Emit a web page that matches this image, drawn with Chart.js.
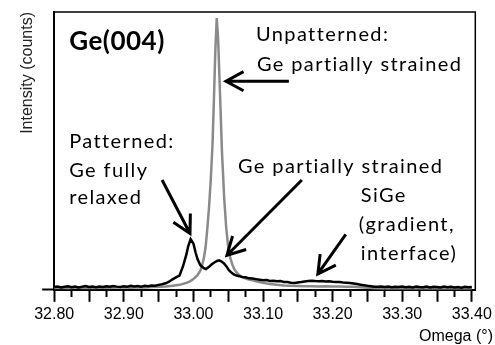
<!DOCTYPE html>
<html>
<head>
<meta charset="utf-8">
<script src="https://cdn.jsdelivr.net/npm/chart.js@4"></script>
<style>
  html, body { margin: 0; padding: 0; background: #fff; }
  #chart { display: block; }
</style>
</head>
<body>
<canvas id="chart" width="495" height="345"></canvas>
<script>
const patternedOmega = [
  32.800, 32.805, 32.810, 32.815, 32.820, 32.825, 32.830, 32.835, 32.840, 32.845,
  32.850, 32.855, 32.860, 32.865, 32.870, 32.875, 32.880, 32.885, 32.890, 32.895,
  32.900, 32.905, 32.910, 32.915, 32.920, 32.925, 32.930, 32.935, 32.940, 32.945,
  32.950, 32.955, 32.960, 32.965, 32.970, 32.975, 32.980, 32.985, 32.990, 32.9925,
  32.996, 33.000, 33.003, 33.006, 33.010, 33.015, 33.018, 33.022, 33.026, 33.030,
  33.034, 33.037, 33.040, 33.044, 33.048, 33.051, 33.055, 33.058, 33.062, 33.066,
  33.070, 33.075, 33.080, 33.085, 33.090, 33.095, 33.100, 33.105, 33.110, 33.115,
  33.120, 33.125, 33.130, 33.135, 33.140, 33.145, 33.150, 33.155, 33.160, 33.165,
  33.170, 33.175, 33.180, 33.185, 33.190, 33.195, 33.200, 33.205, 33.210, 33.215,
  33.220, 33.225, 33.230, 33.235, 33.240, 33.245, 33.250, 33.255, 33.260, 33.265,
  33.270, 33.275, 33.280, 33.285, 33.290, 33.295, 33.300, 33.305, 33.310, 33.315,
  33.320, 33.325, 33.330, 33.335, 33.340, 33.345, 33.350, 33.355, 33.360, 33.365,
  33.370, 33.375, 33.380, 33.385, 33.390, 33.395, 33.400
];
const patternedCounts = [
  70, 85, 60, 75, 90, 65, 80, 60, 75, 95,
  70, 80, 65, 85, 70, 90, 75, 95, 80, 70,
  90, 80, 100, 85, 95, 80, 100, 90, 110, 105,
  125, 140, 165, 205, 265, 315, 360, 590, 900, 1100,
  1280, 1170, 950, 770, 620, 545, 525, 575, 640, 690,
  730, 745, 720, 665, 580, 495, 430, 390, 360, 345,
  325, 315, 290, 285, 270, 255, 240, 245, 225, 230,
  215, 220, 200, 195, 180, 175, 185, 195, 210, 220,
  230, 220, 215, 225, 210, 215, 205, 200, 195, 185,
  180, 170, 160, 145, 130, 115, 100, 90, 80, 75,
  85, 70, 80, 65, 75, 70, 85, 65, 75, 60,
  80, 70, 65, 80, 60, 75, 70, 60, 80, 65,
  75, 60, 70, 55, 75, 65, 70
];

const unpatternedOmega = [
  32.800, 32.810, 32.820, 32.830, 32.840, 32.850, 32.860, 32.870, 32.880, 32.890,
  32.900, 32.910, 32.920, 32.930, 32.940, 32.950, 32.960, 32.970, 32.980, 32.990,
  32.995, 33.000, 33.005, 33.010, 33.0125, 33.015, 33.0175, 33.020, 33.0225, 33.025,
  33.0275, 33.0295, 33.0315, 33.0335, 33.0355, 33.0385, 33.041, 33.0442, 33.047, 33.050,
  33.053, 33.056, 33.0585, 33.062, 33.0655, 33.070, 33.075, 33.080, 33.085, 33.090,
  33.100, 33.110, 33.120, 33.130, 33.140, 33.150, 33.160, 33.170, 33.180, 33.190,
  33.200, 33.210, 33.220, 33.230, 33.240, 33.250, 33.260, 33.270, 33.280, 33.300,
  33.320, 33.340, 33.360, 33.380, 33.400
];
const unpatternedCounts = [
  45, 50, 40, 55, 45, 50, 45, 55, 50, 55,
  60, 55, 65, 60, 70, 75, 85, 100, 125, 175,
  215, 270, 350, 480, 620, 800, 1075, 1550, 2100, 2800,
  3700, 4825, 6050, 6870, 6350, 4825, 3500, 2325, 1600, 1075,
  800, 640, 530, 440, 375, 320, 285, 260, 240, 215,
  175, 145, 125, 110, 100, 95, 90, 90, 85, 90,
  85, 85, 80, 75, 65, 50, 40, 35, 30, 35,
  30, 30, 35, 30, 30
];

const xTicksEvery = 0.025;
const yTicksEvery = 1000;

// Annotation text, anchored in data units (omega, counts)
const notes = [
  { text: 'Ge(004)', x: 32.8215, y: 6275, bold: true, size: 26 },
  { text: 'Unpatterned:', x: 33.0898, y: 6450 },
  { text: 'Ge partially strained', x: 33.0912, y: 5700 },
  { text: 'Patterned:', x: 32.8215, y: 3750 },
  { text: 'Ge fully', x: 32.8215, y: 3025 },
  { text: 'relaxed', x: 32.8215, y: 2325 },
  { text: 'Ge partially strained', x: 33.064, y: 3125 },
  { text: 'SiGe', x: 33.2405, y: 2375 },
  { text: '(gradient,', x: 33.2376, y: 1650 },
  { text: 'interface)', x: 33.2405, y: 925 }
];
const arrows = [
  { from: [33.1372, 5275], to: [33.0468, 5275] },
  { from: [32.955, 2775], to: [32.9951, 1425] },
  { from: [33.1558, 2775], to: [33.0482, 875] },
  { from: [33.2189, 1400], to: [33.1788, 400] }
];

const onStep = (v, step) => Math.abs(v / step - Math.round(v / step)) < 1e-6;

function drawArrow(ctx, x0, y0, x1, y1) {
  const ang = Math.atan2(y1 - y0, x1 - x0);
  const len = 20, spread = 0.5;
  ctx.beginPath();
  ctx.moveTo(x0, y0);
  ctx.lineTo(x1, y1);
  ctx.moveTo(x1 - len * Math.cos(ang - spread), y1 - len * Math.sin(ang - spread));
  ctx.lineTo(x1, y1);
  ctx.lineTo(x1 - len * Math.cos(ang + spread), y1 - len * Math.sin(ang + spread));
  ctx.stroke();
}

const notesPlugin = {
  id: 'notes',
  afterDraw(chart) {
    const { ctx, chartArea: a, scales: { x, y } } = chart;
    ctx.save();
    // box: top and right edges
    ctx.strokeStyle = '#000';
    ctx.lineWidth = 1.5;
    ctx.beginPath();
    ctx.moveTo(a.left, a.top);
    ctx.lineTo(a.right, a.top);
    ctx.lineTo(a.right, a.bottom);
    ctx.stroke();

    ctx.fillStyle = '#000';
    ctx.textBaseline = 'middle';
    ctx.textAlign = 'left';
    notes.forEach(n => {
      ctx.font = (n.bold ? 'bold ' : '') + (n.size || 20) + 'px Lato, sans-serif';
      ctx.letterSpacing = n.bold ? '0.5px' : '1.4px';
      ctx.fillText(n.text, x.getPixelForValue(n.x), y.getPixelForValue(n.y));
    });
    ctx.letterSpacing = '0px';

    ctx.lineWidth = 3;
    ctx.lineCap = 'butt';
    ctx.lineJoin = 'miter';
    arrows.forEach(ar => {
      drawArrow(ctx,
        x.getPixelForValue(ar.from[0]), y.getPixelForValue(ar.from[1]),
        x.getPixelForValue(ar.to[0]), y.getPixelForValue(ar.to[1]));
    });

    // x axis title sits past the plot's right edge
    ctx.font = '16px "Liberation Sans", Arial, sans-serif';
    ctx.fillStyle = '#000';
    ctx.textAlign = 'left';
    ctx.fillText('Omega (°)', 419, 337);
    ctx.restore();
  }
};

new Chart(document.getElementById('chart'), {
  type: 'line',
  data: {
    datasets: [
      {
        label: 'Patterned',
        data: patternedOmega.map((v, i) => ({ x: v, y: patternedCounts[i] })),
        borderColor: '#000',
        borderWidth: 2.5,
        pointRadius: 0,
        tension: 0
      },
      {
        label: 'Unpatterned',
        data: unpatternedOmega.map((v, i) => ({ x: v, y: unpatternedCounts[i] })),
        borderColor: '#8a8a8a',
        borderWidth: 2.5,
        pointRadius: 0,
        tension: 0
      }
    ]
  },
  options: {
    responsive: false,
    animation: false,
    layout: { padding: { left: 15, right: 19, top: 12, bottom: 18 } },
    plugins: {
      legend: { display: false },
      tooltip: { enabled: false }
    },
    scales: {
      x: {
        type: 'linear',
        min: 32.8,
        max: 33.405,
        afterBuildTicks: s => { s.ticks = s.ticks.filter(t => onStep(t.value, xTicksEvery)); },
        ticks: {
          stepSize: xTicksEvery,
          includeBounds: false,
          autoSkip: false,
          maxRotation: 0,
          padding: 3,
          color: '#000',
          font: { family: '"Liberation Sans", Arial, sans-serif', size: 16 },
          callback: v => onStep(v, 0.1) ? v.toFixed(2) : ''
        },
        grid: {
          drawOnChartArea: false,
          tickLength: 12,
          tickWidth: 2,
          tickColor: '#000',
          tickBorderDash: c => (c.tick && onStep(c.tick.value, 0.05)) ? [] : [6, 100]
        },
        border: { color: '#000', width: 2 }
      },
      y: {
        min: 0,
        max: 7025,
        afterBuildTicks: s => { s.ticks = s.ticks.filter(t => onStep(t.value, yTicksEvery)); },
        ticks: { display: false, stepSize: yTicksEvery, includeBounds: false },
        grid: {
          drawOnChartArea: false,
          tickLength: 12,
          tickWidth: 2,
          tickColor: '#000',
          tickBorderDash: c => (c.tick && c.tick.value % 2000 === 0) ? [] : [0, 6, 6, 100]
        },
        border: { color: '#000', width: 2 },
        title: {
          display: true,
          text: 'Intensity (counts)',
          align: 'end',
          color: '#222',
          font: { family: '"Liberation Sans", Arial, sans-serif', size: 16 },
          padding: { top: 3, bottom: 5 }
        }
      }
    }
  },
  plugins: [notesPlugin]
});
</script>
</body>
</html>
